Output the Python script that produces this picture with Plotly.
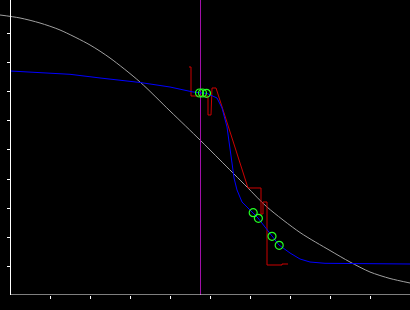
import plotly.graph_objects as go

# ---- data (x: 0..10, y: 0..~10.17) ----
gray_x = [-0.25, 0.25, 0.75, 1.25, 2.0, 2.5, 3.25, 4.0, 4.75, 5.25, 5.925, 6.425, 7.25, 8.0, 8.5, 9.0, 9.5, 10.0]
gray_y = [9.655, 9.552, 9.379, 9.138, 8.621, 8.172, 7.345, 6.345, 5.345, 4.655, 3.724, 3.034, 2.155, 1.534, 1.138, 0.793, 0.569, 0.414]

blue_x = [0.0, 0.75, 1.5, 2.25, 3.25, 4.0, 4.575, 4.925, 5.175, 5.3, 5.425, 5.55, 5.6, 5.675, 5.8,
          6.075, 6.2, 6.55, 6.725, 7.0, 7.25, 7.5, 7.875, 10.0]
blue_y = [7.724, 7.666, 7.610, 7.483, 7.328, 7.172, 7.0, 6.948, 6.793, 6.448, 5.793, 4.55, 4.034, 3.621, 3.207,
          2.828, 2.655, 2.034, 1.724, 1.448, 1.241, 1.138, 1.093, 1.069]

red_x = [4.475, 4.525, 4.525, 4.95, 4.95, 5.025, 5.05, 5.15, 5.95, 6.275, 6.275, 6.325, 6.325, 6.425, 6.425, 6.8, 6.8, 6.95]
red_y = [7.862, 7.862, 6.862, 6.862, 6.207, 6.207, 7.138, 7.138, 3.690, 3.690, 2.793, 2.793, 3.207, 3.207, 1.034, 1.034, 1.069, 1.069]

green_x = [4.7375, 4.8125, 4.9125, 6.08, 6.21, 6.55, 6.73]
green_y = [6.966, 6.966, 6.955, 2.838, 2.645, 2.024, 1.714]

purple_x = 4.7625

x_ticks = [1, 2, 3, 4, 5, 6, 7, 8, 9, 10]
y_ticks = [1, 2, 3, 4, 5, 6, 7, 8, 9]

X_MIN, X_MAX = -0.25, 10.0
Y_MIN, Y_MAX = 0.0, 10.172

fig = go.Figure()
fig.add_trace(go.Scatter(x=gray_x, y=gray_y, mode="lines",
                         line=dict(color="#a0a0a0", width=1, shape="spline", smoothing=0.8),
                         hoverinfo="skip"))
fig.add_trace(go.Scatter(x=[purple_x, purple_x], y=[Y_MIN, Y_MAX], mode="lines",
                         line=dict(color="#a010a8", width=1), hoverinfo="skip"))
fig.add_trace(go.Scatter(x=red_x, y=red_y, mode="lines", line=dict(color="#cc0000", width=1), hoverinfo="skip"))
fig.add_trace(go.Scatter(x=blue_x, y=blue_y, mode="lines", line=dict(color="#0000ff", width=1), hoverinfo="skip"))
fig.add_trace(go.Scatter(x=green_x, y=green_y, mode="markers",
                         marker=dict(symbol="circle-open", size=8, color="#22ff22", line=dict(width=1.2, color="#22ff22")),
                         hoverinfo="skip"))

# x axis line (starts at x=0, where the y axis sits)
fig.add_shape(type="line", xref="x", yref="y", x0=0, x1=X_MAX, y0=Y_MIN, y1=Y_MIN,
              line=dict(color="white", width=1))

fig.update_layout(
    width=410, height=310,
    margin=dict(l=0, r=0, t=0, b=15),
    paper_bgcolor="black", plot_bgcolor="black",
    showlegend=False,
    xaxis=dict(range=[X_MIN, X_MAX], tickvals=x_ticks, ticks="outside", ticklen=3, tickwidth=1,
               tickcolor="white", showticklabels=False, showgrid=False, zeroline=False, showline=False),
    yaxis=dict(range=[Y_MIN, Y_MAX], tickvals=y_ticks, ticks="outside", ticklen=3, tickwidth=1,
               tickcolor="white", showticklabels=False, showgrid=False, zeroline=False,
               showline=True, linecolor="white", linewidth=1,
               anchor="free", position=(0 - X_MIN) / (X_MAX - X_MIN)),
)

fig.write_html("out.html")
